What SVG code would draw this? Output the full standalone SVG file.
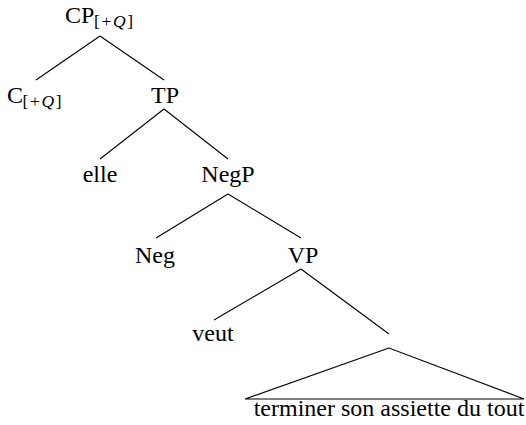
<svg xmlns="http://www.w3.org/2000/svg" width="526" height="425" viewBox="0 0 526 425">
<style>
text{font-family:"Liberation Serif","Times New Roman",serif;font-size:24px;fill:#000}
.c{text-anchor:middle}
.sub{font-size:17.5px}
.i{font-style:italic}
line,polygon{stroke:#000;stroke-width:1.1;fill:none}
</style>
<rect width="526" height="425" fill="#fff"/>
<g id="connectors">
<line x1="100" y1="36" x2="36" y2="80"/>
<line x1="100" y1="36" x2="164" y2="80"/>
<line x1="164" y1="109" x2="100" y2="159"/>
<line x1="164" y1="109" x2="228" y2="159"/>
<line x1="228" y1="194" x2="156" y2="238"/>
<line x1="228" y1="194" x2="301" y2="238"/>
<line x1="301" y1="269" x2="214" y2="320"/>
<line x1="301" y1="269" x2="389" y2="334"/>
</g>
<g id="CP"><text x="65" y="23">CP</text><text class="sub" x="94" y="26.5" textLength="39" lengthAdjust="spacing">[+<tspan class="i">Q</tspan>]</text></g>
<g id="C"><text x="7" y="103">C</text><text class="sub" x="22.5" y="106.5" textLength="39" lengthAdjust="spacing">[+<tspan class="i">Q</tspan>]</text></g>
<g id="TP"><text class="c" x="165" y="103">TP</text></g>
<g id="elle"><text class="c" x="100" y="182">elle</text></g>
<g id="NegP"><text class="c" x="228" y="182">NegP</text></g>
<g id="Neg"><text class="c" x="155" y="263">Neg</text></g>
<g id="VP"><text class="c" x="303" y="263">VP</text></g>
<g id="veut"><text class="c" x="213" y="341">veut</text></g>
<g id="triangle"><polygon points="389,348 245,399 524,399"/><text class="c" x="389" y="416">terminer son assiette du tout</text></g>
</svg>
